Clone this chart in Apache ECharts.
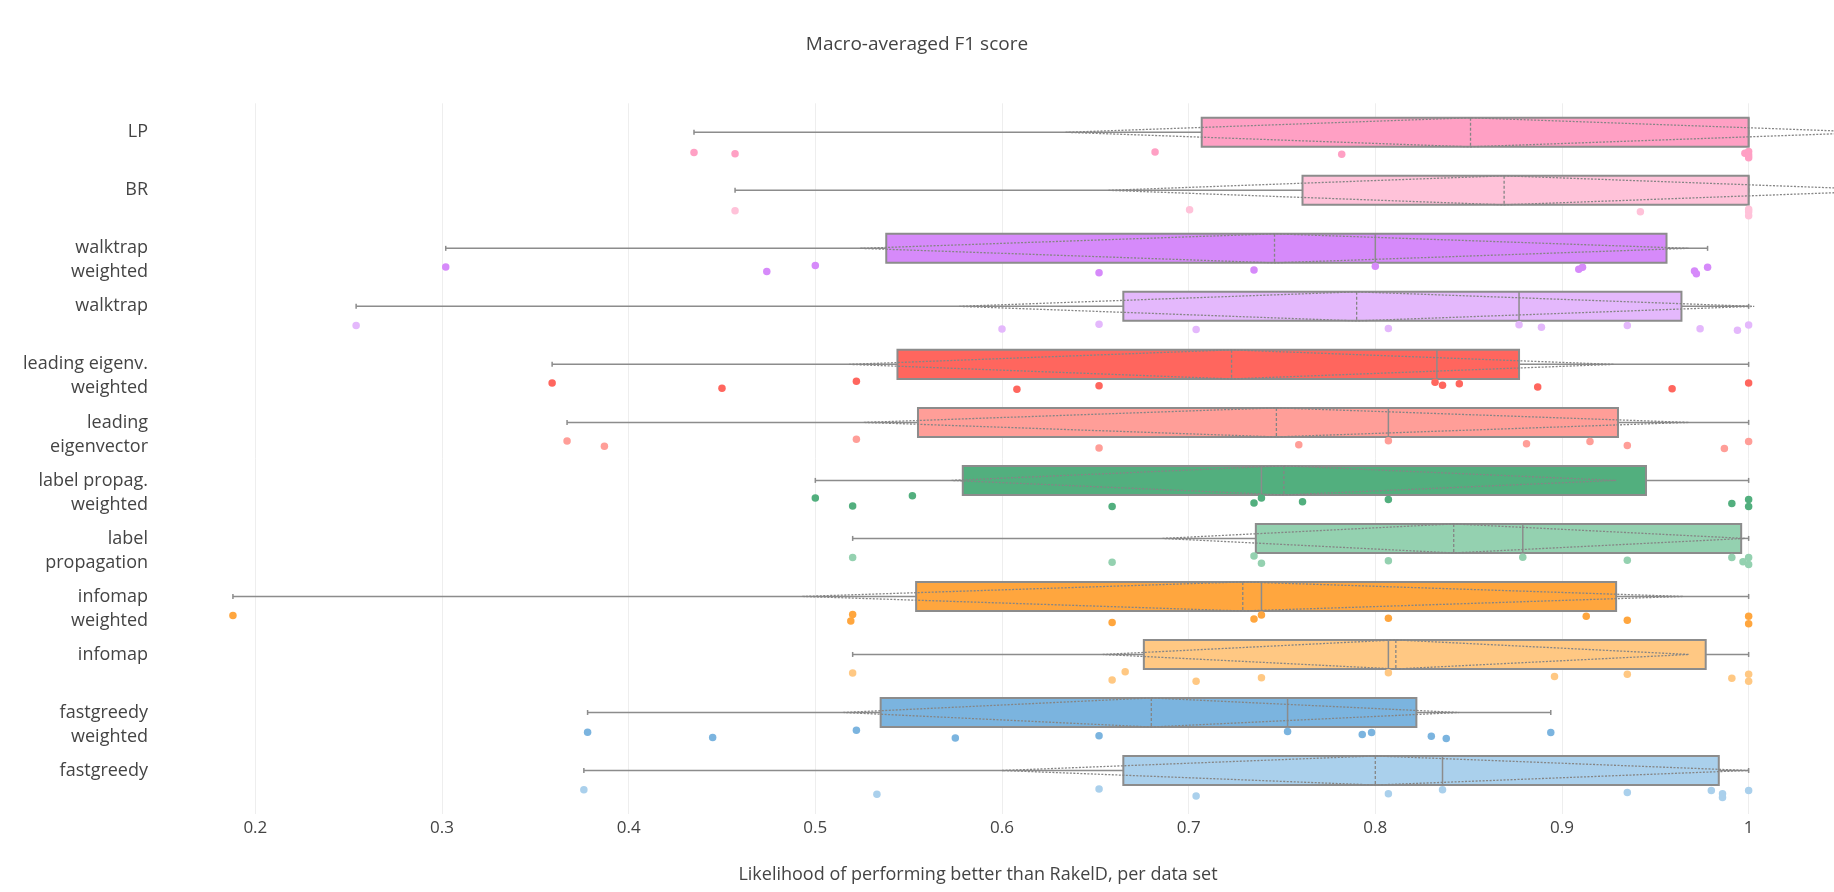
<!DOCTYPE html>
<html>
<head>
<meta charset="utf-8">
<script src="https://cdn.jsdelivr.net/npm/echarts@6.0.0/dist/echarts.min.js"></script>
<style>
  html, body { margin: 0; padding: 0; background: #fff; }
  #chart { width: 1834px; height: 892px; }
</style>
</head>
<body>
<div id="chart"></div>
<script>
// rows, top to bottom
const categories = ['LP', 'BR', 'walktrap\nweighted', 'walktrap', 'leading eigenv.\nweighted', 'leading\neigenvector',
  'label propag.\nweighted', 'label\npropagation', 'infomap\nweighted', 'infomap', 'fastgreedy\nweighted', 'fastgreedy'];
const colors = ['#FFA0C4', '#FFC2D9', '#D68AFA', '#E4B8FC', '#FF665E', '#FF9E98',
  '#52AF7E', '#94D1B0', '#FFA63E', '#FFC883', '#7BB4DF', '#AAD0EC'];
const xTicks = [0.2, 0.3, 0.4, 0.5, 0.6, 0.7, 0.8, 0.9, 1];

// box stats per row
const whiskerLow  = [0.435, 0.457, 0.302, 0.254, 0.359, 0.367, 0.500, 0.520, 0.188, 0.520, 0.378, 0.376];
const q1          = [0.707, 0.761, 0.538, 0.665, 0.544, 0.555, 0.579, 0.736, 0.554, 0.676, 0.535, 0.665];
const median      = [1.000, 1.000, 0.800, 0.877, 0.833, 0.807, 0.739, 0.879, 0.739, 0.807, 0.753, 0.836];
const q3          = [1.000, 1.000, 0.956, 0.964, 0.877, 0.930, 0.945, 0.996, 0.929, 0.977, 0.822, 0.984];
const whiskerHigh = [1.000, 1.000, 0.978, 1.000, 1.000, 1.000, 1.000, 1.000, 1.000, 1.000, 0.894, 1.000];
const mean        = [0.851, 0.869, 0.746, 0.790, 0.723, 0.747, 0.751, 0.842, 0.729, 0.811, 0.680, 0.800];
const sd          = [0.217, 0.212, 0.222, 0.213, 0.205, 0.221, 0.178, 0.156, 0.236, 0.157, 0.165, 0.200];

// single data set results per row
const pointX = [
  [0.435, 0.457, 0.682, 0.782, 0.998, 1.0, 1.0, 1.0],                              // LP
  [0.457, 0.7005, 0.942, 1.0, 1.0, 1.0],                                            // BR
  [0.302, 0.474, 0.500, 0.652, 0.735, 0.800, 0.909, 0.911, 0.971, 0.972, 0.978],   // walktrap w
  [0.254, 0.600, 0.652, 0.704, 0.807, 0.877, 0.889, 0.935, 0.974, 0.994, 1.0],     // walktrap
  [0.359, 0.450, 0.522, 0.608, 0.652, 0.832, 0.836, 0.845, 0.887, 0.959, 1.0],     // leading eig w
  [0.367, 0.387, 0.522, 0.652, 0.759, 0.807, 0.881, 0.915, 0.935, 0.987, 1.0],     // leading eig
  [0.500, 0.520, 0.552, 0.659, 0.735, 0.739, 0.761, 0.807, 0.991, 1.0, 1.0],       // label prop w
  [0.520, 0.659, 0.735, 0.739, 0.807, 0.879, 0.935, 0.991, 0.997, 1.0, 1.0],       // label prop
  [0.188, 0.519, 0.520, 0.659, 0.735, 0.739, 0.807, 0.913, 0.935, 1.0, 1.0],       // infomap w
  [0.520, 0.659, 0.666, 0.704, 0.739, 0.807, 0.896, 0.935, 0.991, 1.0, 1.0],       // infomap
  [0.378, 0.445, 0.522, 0.575, 0.652, 0.753, 0.793, 0.798, 0.830, 0.838, 0.894],   // fastgreedy w
  [0.376, 0.533, 0.652, 0.704, 0.807, 0.836, 0.935, 0.980, 0.986, 0.986, 1.0]      // fastgreedy
];
// vertical jitter below each box (in rows)
const pointJitter = [
  [0.35, 0.37, 0.34, 0.38, 0.36, 0.33, 0.39, 0.44],
  [0.35, 0.335, 0.37, 0.325, 0.37, 0.44],
  [0.32, 0.40, 0.295, 0.42, 0.375, 0.307, 0.36, 0.325, 0.39, 0.44, 0.325],
  [0.33, 0.39, 0.31, 0.40, 0.38, 0.315, 0.36, 0.33, 0.385, 0.41, 0.32],
  [0.32, 0.41, 0.29, 0.43, 0.37, 0.31, 0.36, 0.335, 0.39, 0.42, 0.32],
  [0.32, 0.41, 0.29, 0.44, 0.385, 0.315, 0.37, 0.33, 0.40, 0.45, 0.33],
  [0.305, 0.44, 0.265, 0.45, 0.39, 0.305, 0.37, 0.33, 0.40, 0.33, 0.45],
  [0.33, 0.41, 0.305, 0.43, 0.385, 0.325, 0.375, 0.33, 0.40, 0.33, 0.45],
  [0.33, 0.425, 0.31, 0.45, 0.39, 0.32, 0.375, 0.34, 0.41, 0.34, 0.47],
  [0.32, 0.44, 0.30, 0.46, 0.40, 0.315, 0.38, 0.34, 0.41, 0.34, 0.46],
  [0.34, 0.43, 0.305, 0.44, 0.40, 0.33, 0.38, 0.345, 0.41, 0.45, 0.345],
  [0.33, 0.41, 0.32, 0.44, 0.40, 0.33, 0.38, 0.345, 0.40, 0.465, 0.345]
];

const FONT = '"Open Sans", sans-serif';
const GREY = '#8c8c8c';

const boxData = categories.map((c, i) =>
  [i, whiskerLow[i], q1[i], median[i], q3[i], whiskerHigh[i], mean[i], sd[i]]);

let pointData = [];
pointX.forEach((xs, i) => {
  xs.forEach((x, k) => {
    pointData.push([x, i + pointJitter[i][k], i]);
  });
});

function renderBox(params, api) {
  const row = api.value(0);
  const px = v => api.coord([v, row])[0];
  const yc = api.coord([0, row])[1];
  const h = api.size([0, 1])[1] * 0.25;
  const lo = px(api.value(1)), a = px(api.value(2)), md = px(api.value(3));
  const b = px(api.value(4)), hi = px(api.value(5));
  const mn = px(api.value(6));
  const s1 = px(api.value(6) - api.value(7)), s2 = px(api.value(6) + api.value(7));
  const lineSt = { stroke: GREY, lineWidth: 1.5 };
  const dotSt = { stroke: '#858585', lineWidth: 1.3, lineDash: [2, 1.5], fill: null };
  return {
    type: 'group',
    children: [
      { type: 'line', shape: { x1: lo, y1: yc, x2: a, y2: yc }, style: lineSt },
      { type: 'line', shape: { x1: b, y1: yc, x2: hi, y2: yc }, style: lineSt },
      { type: 'line', shape: { x1: lo, y1: yc - 2.5, x2: lo, y2: yc + 2.5 }, style: lineSt },
      { type: 'line', shape: { x1: hi, y1: yc - 2.5, x2: hi, y2: yc + 2.5 }, style: lineSt },
      { type: 'rect', shape: { x: a, y: yc - h, width: b - a, height: 2 * h },
        style: { fill: colors[row], stroke: GREY, lineWidth: 2 } },
      { type: 'line', shape: { x1: md, y1: yc - h, x2: md, y2: yc + h }, style: lineSt },
      { type: 'line', shape: { x1: mn, y1: yc - h, x2: mn, y2: yc + h },
        style: { stroke: '#858585', lineWidth: 1.3, lineDash: [3, 2] } },
      { type: 'polygon', shape: { points: [[s1, yc], [mn, yc - h], [s2, yc], [mn, yc + h]] }, style: dotSt }
    ]
  };
}

const chart = echarts.init(document.getElementById('chart'));
chart.setOption({
  animation: false,
  textStyle: { fontFamily: FONT },
  title: {
    text: 'Macro-averaged F1 score',
    left: 'center',
    top: 30,
    textStyle: { fontFamily: FONT, fontSize: 19, fontWeight: 'normal', color: '#444' }
  },
  grid: { left: 162, right: 40, top: 103.3, bottom: 78 },
  xAxis: {
    type: 'value',
    min: 0.15,
    max: 1.0243,
    name: 'Likelihood of performing better than RakelD, per data set',
    nameLocation: 'middle',
    nameGap: 52,
    nameTextStyle: { fontFamily: FONT, fontSize: 18, color: '#444' },
    axisLine: { show: false },
    axisTick: { show: false, customValues: xTicks },
    axisLabel: { customValues: xTicks, fontFamily: FONT, fontSize: 17, color: '#444', margin: 6 },
    splitLine: { show: true, lineStyle: { color: '#eeeeee', width: 1 } }
  },
  yAxis: {
    type: 'value',
    inverse: true,
    min: -0.5,
    max: 11.75,
    axisLine: { show: false },
    axisTick: { show: false },
    splitLine: { show: false },
    axisLabel: {
      customValues: categories.map((c, i) => i),
      fontFamily: FONT,
      fontSize: 18,
      lineHeight: 24,
      color: '#444',
      margin: 14,
      formatter: function (v) {
        const c = categories[Math.round(v)] || '';
        return c.indexOf('\n') >= 0 ? '\n' + c : c;
      }
    }
  },
  series: [
    {
      type: 'custom',
      renderItem: renderBox,
      data: boxData,
      encode: { x: [1, 2, 3, 4, 5], y: 0 },
      clip: false,
      z: 2
    },
    {
      type: 'scatter',
      data: pointData,
      symbolSize: 7.5,
      itemStyle: { color: p => colors[p.data[2]], opacity: 1 },
      z: 3
    }
  ]
});
</script>
</body>
</html>
